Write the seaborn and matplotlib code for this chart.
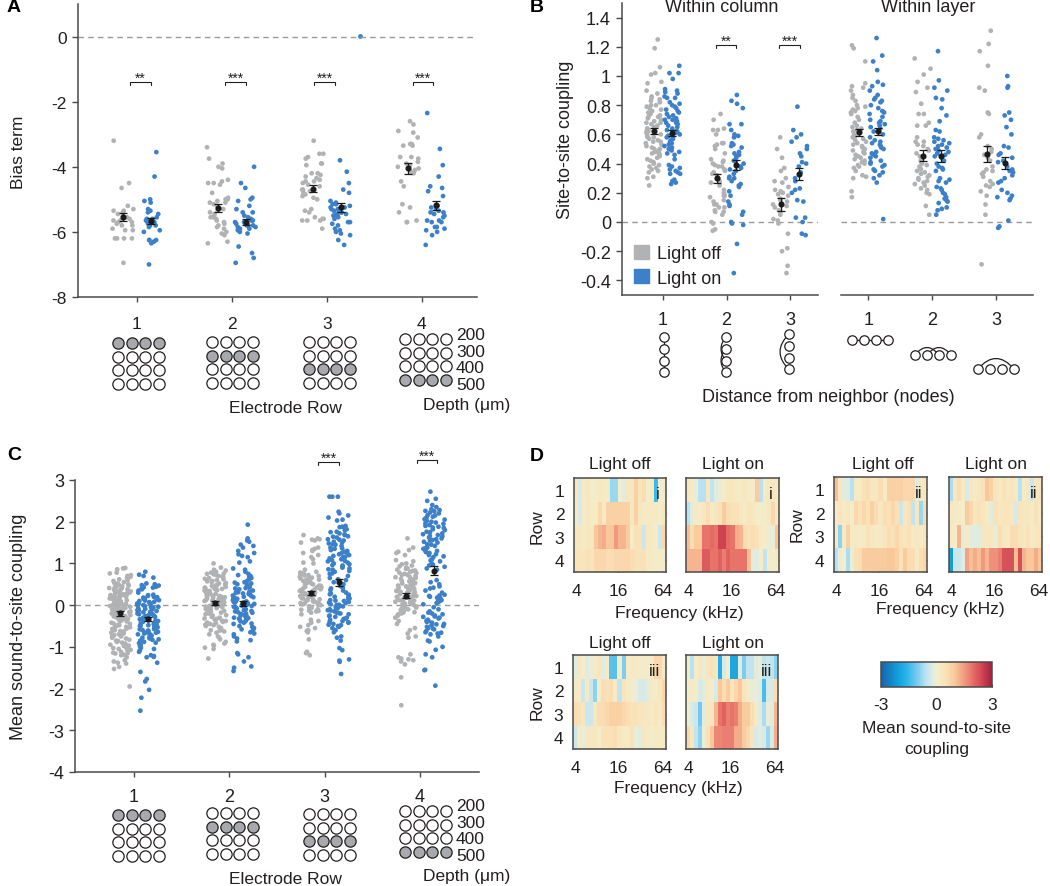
import numpy as np
import pandas as pd
import matplotlib
matplotlib.use("Agg")
import matplotlib.pyplot as plt
from matplotlib.colors import LinearSegmentedColormap
from matplotlib.patches import Patch, PathPatch
from matplotlib.path import Path
import seaborn as sns

sns.set_theme(style="white")
plt.rcParams['font.family'] = ['Liberation Sans', 'DejaVu Sans']
np.random.seed(7)  # only fixes the strip-plot's horizontal jitter between runs

# ---------- data, panel A ----------
a_off = [
 [-3.2,-4.5,-4.65,-5.2,-5.3,-5.35,-5.4,-5.35,-5.45,-5.5,-5.55,-5.6,-5.65,-5.65,-5.7,-5.7,-5.75,-5.8,-5.8,-5.9,-5.95,-5.95,-6.2,-6.2,-6.2,-6.2,-6.95],
 [-3.4,-3.75,-3.9,-4.0,-4.05,-4.4,-4.45,-4.5,-4.5,-4.55,-4.8,-4.95,-5.0,-5.0,-5.05,-5.1,-5.1,-5.15,-5.2,-5.3,-5.35,-5.4,-5.45,-5.5,-5.55,-5.55,-5.6,-5.65,-5.7,-5.75,-5.8,-5.85,-5.9,-6.0,-6.05,-6.1,-6.3,-6.35],
 [-3.2,-3.6,-3.6,-3.7,-3.75,-3.9,-3.9,-3.95,-4.2,-4.2,-4.25,-4.3,-4.35,-4.4,-4.45,-4.45,-4.5,-4.55,-4.6,-4.7,-4.7,-4.75,-4.8,-4.85,-4.9,-4.95,-5.0,-5.3,-5.35,-5.4,-5.55,-5.6,-5.6,-5.65,-5.65,-5.65,-5.9],
 [-2.6,-2.7,-2.9,-2.95,-3.1,-3.3,-3.35,-3.3,-3.35,-3.7,-3.7,-3.75,-3.85,-3.9,-3.95,-4.0,-4.05,-4.1,-4.15,-4.2,-4.45,-4.6,-5.15,-5.25,-5.4,-5.65,-5.7,-5.7],
]
a_on = [
 [-3.55,-4.3,-5.0,-5.05,-5.1,-5.3,-5.35,-5.4,-5.45,-5.55,-5.6,-5.6,-5.65,-5.65,-5.7,-5.7,-5.75,-5.8,-5.8,-5.85,-5.95,-6.0,-6.25,-6.25,-6.25,-6.3,-6.35,-7.0],
 [-4.0,-4.5,-4.65,-4.95,-5.0,-5.05,-5.2,-5.3,-5.4,-5.4,-5.5,-5.55,-5.6,-5.65,-5.65,-5.7,-5.7,-5.75,-5.75,-5.8,-5.8,-5.8,-5.85,-5.85,-5.9,-5.9,-5.95,-6.0,-6.05,-6.45,-6.65,-6.8,-6.95],
 [-3.8,-4.15,-4.5,-4.7,-4.8,-5.05,-5.1,-5.15,-5.15,-5.2,-5.25,-5.25,-5.3,-5.3,-5.35,-5.35,-5.4,-5.4,-5.45,-5.45,-5.5,-5.5,-5.5,-5.55,-5.6,-5.7,-5.7,-5.75,-5.8,-5.9,-5.95,-6.0,-6.05,-6.1,-6.25,-6.4],
 [-2.35,-3.45,-3.95,-4.3,-4.6,-4.65,-4.75,-4.9,-5.2,-5.25,-5.3,-5.35,-5.4,-5.4,-5.45,-5.5,-5.55,-5.65,-5.65,-5.7,-5.7,-5.85,-5.85,-5.9,-5.95,-6.0,-6.1,-6.4],
]
a_stray = (3.35, 0.02)
a_mean_off = [-5.55,-5.27,-4.67,-4.05]
a_sem_off = [0.12,0.13,0.12,0.16]
a_mean_on = [-5.67,-5.70,-5.25,-5.18]
a_sem_on = [0.10,0.09,0.14,0.14]

# ---------- data, panel B ----------
b_off = [
 [1.25,1.19,1.06,1.02,1.01,0.96,0.95,0.9,0.88,0.86,0.85,0.84,0.83,0.82,0.8,0.8,0.79,0.78,0.77,0.76,0.75,0.74,0.73,0.72,0.72,0.71,0.7,0.69,0.68,0.68,0.67,0.66,0.65,0.64,0.64,0.63,0.62,0.62,0.61,0.6,0.59,0.58,0.58,0.57,0.56,0.55,0.55,0.54,0.53,0.52,0.51,0.5,0.5,0.49,0.48,0.47,0.47,0.46,0.45,0.44,0.43,0.42,0.41,0.4,0.39,0.38,0.37,0.36,0.35,0.34,0.31,0.3,0.25],
 [0.74,0.7,0.64,0.63,0.63,0.6,0.54,0.54,0.53,0.52,0.5,0.47,0.43,0.42,0.41,0.4,0.39,0.38,0.38,0.36,0.35,0.34,0.33,0.32,0.3,0.28,0.27,0.25,0.22,0.2,0.19,0.18,0.18,0.17,0.15,0.14,0.12,0.12,0.1,0.1,0.08,0.07,0.07,0.05,0.0,-0.01,-0.05,-0.06],
 [0.58,0.5,0.44,0.37,0.35,0.3,0.28,0.27,0.24,0.22,0.21,0.2,0.19,0.18,0.16,0.15,0.14,0.12,0.11,0.1,0.08,0.07,0.05,0.02,0.01,-0.01,-0.08,-0.18,-0.2,-0.3,-0.35],
 [1.21,1.19,1.1,0.95,0.93,0.92,0.9,0.87,0.85,0.83,0.8,0.79,0.78,0.77,0.76,0.75,0.74,0.72,0.7,0.68,0.66,0.65,0.64,0.63,0.62,0.61,0.6,0.59,0.58,0.57,0.56,0.55,0.54,0.53,0.52,0.51,0.5,0.49,0.48,0.47,0.46,0.45,0.44,0.43,0.42,0.41,0.4,0.39,0.38,0.37,0.35,0.32,0.31,0.3,0.21,0.17],
 [1.12,1.05,1.01,0.96,0.92,0.89,0.81,0.74,0.74,0.68,0.66,0.66,0.58,0.55,0.55,0.53,0.52,0.5,0.49,0.47,0.45,0.44,0.42,0.41,0.4,0.39,0.38,0.37,0.36,0.35,0.34,0.33,0.32,0.31,0.3,0.29,0.28,0.27,0.26,0.25,0.23,0.22,0.2,0.19,0.11,0.05],
 [1.31,1.22,1.17,1.07,0.92,0.9,0.75,0.74,0.6,0.58,0.52,0.5,0.48,0.46,0.44,0.42,0.38,0.36,0.35,0.34,0.33,0.31,0.28,0.26,0.25,0.24,0.21,0.18,0.12,0.05,-0.29],
]
b_on = [
 [1.07,1.02,1.02,0.98,0.91,0.9,0.89,0.88,0.86,0.85,0.85,0.82,0.81,0.8,0.79,0.78,0.77,0.76,0.75,0.74,0.73,0.72,0.71,0.7,0.7,0.69,0.68,0.68,0.67,0.66,0.65,0.64,0.63,0.62,0.62,0.61,0.6,0.59,0.59,0.58,0.57,0.56,0.55,0.54,0.53,0.52,0.51,0.5,0.49,0.48,0.47,0.46,0.43,0.39,0.38,0.37,0.36,0.35,0.34,0.33,0.33,0.29,0.28,0.27,0.26],
 [0.87,0.83,0.81,0.78,0.67,0.67,0.63,0.6,0.59,0.58,0.54,0.53,0.52,0.51,0.48,0.47,0.46,0.45,0.44,0.42,0.41,0.4,0.38,0.37,0.36,0.35,0.33,0.31,0.3,0.3,0.28,0.26,0.25,0.24,0.21,0.18,0.14,0.12,0.11,0.07,0.05,0.0,-0.01,-0.02,-0.15,-0.35],
 [0.79,0.63,0.6,0.58,0.55,0.52,0.5,0.47,0.45,0.41,0.4,0.38,0.34,0.3,0.28,0.23,0.22,0.2,0.15,0.14,0.03,0.03,0.0,-0.08,-0.09],
 [1.26,1.14,1.1,1.04,0.96,0.94,0.93,0.9,0.87,0.85,0.84,0.83,0.82,0.8,0.78,0.76,0.75,0.74,0.72,0.7,0.69,0.68,0.67,0.66,0.65,0.64,0.62,0.6,0.58,0.56,0.55,0.54,0.53,0.52,0.51,0.5,0.48,0.47,0.46,0.45,0.44,0.42,0.41,0.4,0.39,0.38,0.36,0.35,0.34,0.32,0.3,0.27,0.02],
 [1.17,0.97,0.92,0.9,0.85,0.84,0.78,0.73,0.69,0.63,0.62,0.58,0.57,0.56,0.55,0.54,0.53,0.52,0.51,0.5,0.49,0.48,0.47,0.46,0.45,0.44,0.42,0.4,0.38,0.37,0.36,0.35,0.3,0.29,0.28,0.27,0.24,0.23,0.22,0.2,0.19,0.17,0.16,0.15,0.14,0.13,0.1,0.09,0.08,0.05],
 [1.0,0.93,0.92,0.75,0.73,0.7,0.65,0.6,0.52,0.51,0.47,0.46,0.44,0.42,0.41,0.38,0.36,0.35,0.34,0.32,0.3,0.28,0.27,0.22,0.2,0.18,0.17,0.16,0.15,0.01,-0.03,-0.04],
]
b_mean_off = [0.625,0.30,0.12,0.615,0.455,0.465]
b_sem_off = [0.02,0.03,0.045,0.025,0.035,0.055]
b_mean_on = [0.61,0.39,0.33,0.62,0.45,0.405]
b_sem_on = [0.02,0.035,0.04,0.025,0.04,0.04]

# ---------- data, panel C ----------
c_off = [
 [0.89,0.88,0.86,0.78,0.76,0.72,0.7,0.68,0.65,0.62,0.6,0.58,0.55,0.53,0.52,0.5,0.49,0.47,0.45,0.44,0.42,0.41,0.4,0.38,0.37,0.35,0.33,0.32,0.3,0.29,0.27,0.25,0.24,0.22,0.21,0.2,0.18,0.16,0.15,0.13,0.12,0.1,0.09,0.07,0.05,0.04,0.02,0.01,-0.01,-0.03,-0.04,-0.06,-0.08,-0.09,-0.11,-0.13,-0.15,-0.16,-0.18,-0.2,-0.22,-0.24,-0.25,-0.27,-0.29,-0.31,-0.33,-0.35,-0.37,-0.39,-0.42,-0.45,-0.48,-0.5,-0.52,-0.55,-0.57,-0.6,-0.63,-0.66,-0.7,-0.72,-0.75,-0.78,-0.8,-0.83,-0.85,-0.88,-0.9,-0.92,-0.95,-0.98,-1.0,-1.02,-1.05,-1.08,-1.12,-1.14,-1.16,-1.18,-1.2,-1.25,-1.32,-1.35,-1.38,-1.4,-1.48,-1.53,-1.95,
  0.48,0.43,0.36,0.31,0.28,0.26,0.23,0.19,0.17,0.14,0.11,0.08,0.06,0.03,0.0,-0.02,-0.05,-0.07,-0.1,-0.12,-0.14,-0.17,-0.19,-0.21,-0.23,-0.26,-0.28,-0.3,-0.34,-0.38,-0.44,-0.47,-0.53,-0.56,-0.62,-0.68,-0.74,-0.86,-0.97,-1.03,-1.07,-1.15,-1.19],
 [1.0,0.9,0.85,0.83,0.8,0.78,0.76,0.74,0.72,0.7,0.68,0.65,0.62,0.6,0.58,0.55,0.53,0.5,0.48,0.46,0.44,0.42,0.4,0.38,0.36,0.35,0.33,0.31,0.3,0.28,0.26,0.25,0.23,0.21,0.2,0.18,0.16,0.15,0.13,0.11,0.1,0.08,0.06,0.05,0.03,0.01,0.0,-0.02,-0.04,-0.05,-0.07,-0.1,-0.12,-0.15,-0.18,-0.2,-0.22,-0.25,-0.28,-0.3,-0.33,-0.35,-0.38,-0.4,-0.42,-0.45,-0.48,-0.5,-0.55,-0.58,-0.6,-0.63,-0.66,-0.7,-0.75,-0.78,-0.82,-0.88,-0.92,-0.95,-0.97,-1.02,-1.05,-1.28,
  0.75,0.69,0.63,0.57,0.52,0.47,0.43,0.39,0.34,0.29,0.27,0.24,0.22,0.19,0.17,0.14,0.12,0.09,0.07,0.04,0.02,-0.01,-0.03,-0.06,-0.09,-0.14,-0.17,-0.24,-0.32,-0.37,-0.43,-0.47,-0.52,-0.61],
 [1.68,1.6,1.58,1.57,1.55,1.5,1.38,1.35,1.32,1.3,1.25,1.2,1.15,1.1,1.02,1.0,0.85,0.8,0.78,0.76,0.74,0.72,0.7,0.68,0.66,0.64,0.62,0.6,0.58,0.56,0.54,0.52,0.5,0.48,0.46,0.44,0.42,0.4,0.38,0.36,0.34,0.32,0.3,0.28,0.26,0.24,0.22,0.2,0.18,0.16,0.14,0.12,0.1,0.08,0.06,0.04,0.02,0.0,-0.03,-0.05,-0.08,-0.1,-0.13,-0.15,-0.18,-0.22,-0.35,-0.38,-0.42,-0.48,-0.52,-0.55,-0.6,-0.62,-0.65,-0.82,-1.12,-1.15,-1.2,
  0.75,0.71,0.65,0.61,0.55,0.51,0.47,0.43,0.39,0.35,0.33,0.29,0.25,0.21,0.17,0.13,0.09,0.05,0.01,-0.04,-0.07,-0.11,-0.14],
 [1.6,1.38,1.32,1.28,1.25,1.2,1.08,1.05,1.0,0.98,0.95,0.93,0.9,0.87,0.85,0.82,0.8,0.78,0.75,0.72,0.7,0.68,0.65,0.62,0.6,0.58,0.55,0.52,0.5,0.48,0.45,0.42,0.4,0.38,0.36,0.34,0.32,0.3,0.28,0.26,0.24,0.22,0.2,0.18,0.16,0.14,0.12,0.1,0.08,0.06,0.04,0.02,0.0,-0.03,-0.05,-0.08,-0.1,-0.14,-0.17,-0.2,-0.25,-0.3,-0.38,-0.45,-0.55,-0.6,-0.68,-0.75,-0.78,-1.18,-1.25,-1.28,-1.3,-1.32,-1.35,-1.42,-1.73,-2.4,
  0.88,0.83,0.77,0.73,0.67,0.63,0.57,0.53,0.47,0.43,0.39,0.35,0.31,0.27,0.23,0.19,0.15,0.11,0.07,0.03,-0.02,-0.06,-0.12,-0.18,-0.22],
]
c_on = [
 [0.8,0.73,0.7,0.66,0.52,0.5,0.48,0.46,0.44,0.42,0.4,0.38,0.35,0.3,0.25,0.22,0.2,0.18,0.16,0.14,0.12,0.1,0.08,0.06,0.04,0.02,0.0,-0.02,-0.04,-0.06,-0.08,-0.1,-0.12,-0.14,-0.16,-0.18,-0.2,-0.22,-0.24,-0.26,-0.28,-0.3,-0.32,-0.34,-0.36,-0.38,-0.4,-0.42,-0.44,-0.46,-0.48,-0.5,-0.52,-0.54,-0.56,-0.58,-0.6,-0.62,-0.64,-0.66,-0.68,-0.7,-0.72,-0.75,-0.78,-0.8,-0.82,-0.85,-0.88,-0.9,-0.95,-0.98,-1.02,-1.05,-1.08,-1.12,-1.2,-1.22,-1.24,-1.25,-1.38,-1.6,-1.77,-1.83,-2.03,-2.22,-2.53,
  0.47,0.43,0.24,0.19,0.15,0.11,0.07,0.03,-0.01,-0.05,-0.09,-0.13,-0.17,-0.21,-0.25,-0.29,-0.33,-0.37,-0.41,-0.45,-0.49,-0.53,-0.57,-0.61,-0.65,-0.69,-0.73,-0.79,-0.83,-0.91],
 [1.93,1.6,1.55,1.52,1.45,1.42,1.38,1.3,1.25,1.22,1.18,1.15,1.05,1.02,0.88,0.85,0.8,0.75,0.72,0.7,0.68,0.65,0.62,0.58,0.55,0.52,0.5,0.48,0.45,0.42,0.4,0.38,0.35,0.32,0.3,0.28,0.25,0.22,0.2,0.18,0.15,0.12,0.1,0.08,0.05,0.02,0.0,-0.02,-0.05,-0.08,-0.1,-0.12,-0.15,-0.18,-0.2,-0.22,-0.25,-0.28,-0.3,-0.32,-0.35,-0.38,-0.42,-0.45,-0.5,-0.55,-0.6,-0.65,-0.7,-0.75,-0.8,-0.84,-0.87,-1.15,-1.18,-1.25,-1.35,-1.47,-1.5,-1.58,
  0.67,0.54,0.47,0.41,0.36,0.31,0.27,0.23,0.19,0.16,0.13,0.09,0.06,0.03,-0.01,-0.04,-0.07,-0.11,-0.14,-0.17,-0.21,-0.24,-0.27,-0.31,-0.34,-0.39,-0.44,-0.52,-0.58,-0.68],
 [2.6,2.6,2.6,2.24,2.2,2.15,2.1,2.05,2.03,1.9,1.88,1.85,1.82,1.8,1.75,1.72,1.7,1.68,1.65,1.62,1.58,1.55,1.52,1.5,1.48,1.45,1.42,1.38,1.35,1.32,1.3,1.28,1.25,1.22,1.2,1.18,1.15,1.12,1.1,1.08,1.05,1.02,1.0,0.98,0.95,0.92,0.9,0.88,0.85,0.82,0.8,0.75,0.7,0.65,0.62,0.6,0.55,0.5,0.45,0.42,0.4,0.35,0.3,0.28,0.25,0.22,0.2,0.18,0.15,0.12,0.1,0.08,0.05,0.02,0.0,-0.02,-0.05,-0.08,-0.1,-0.12,-0.15,-0.18,-0.2,-0.22,-0.25,-0.28,-0.3,-0.32,-0.35,-0.38,-0.4,-0.42,-0.45,-0.48,-0.5,-0.52,-0.55,-0.6,-0.65,-0.75,-0.78,-0.85,-1.03,-1.08,-1.3,-1.33,-1.36,-1.65,
  1.87,1.76,1.64,1.57,1.46,1.36,1.26,1.16,1.06,0.96,0.86,0.76,0.46,0.36,0.26,0.16,0.11,0.06,0.01,-0.03,-0.07,-0.13,-0.19,-0.26,-0.33,-0.41,-0.47],
 [2.72,2.55,2.5,2.4,2.35,2.3,2.28,2.25,2.22,2.2,2.15,2.12,2.1,2.05,2.02,2.0,1.98,1.95,1.92,1.9,1.88,1.85,1.82,1.8,1.75,1.72,1.7,1.68,1.65,1.62,1.6,1.58,1.55,1.52,1.5,1.45,1.42,1.38,1.35,1.32,1.3,1.28,1.25,1.22,1.2,1.15,1.1,1.05,1.0,0.95,0.92,0.88,0.85,0.6,0.55,0.5,0.45,0.42,0.4,0.35,0.3,0.25,0.22,0.2,0.18,0.15,0.12,0.1,0.08,0.05,0.02,-0.05,-0.1,-0.15,-0.18,-0.2,-0.25,-0.28,-0.3,-0.32,-0.35,-0.38,-0.4,-0.42,-0.45,-0.48,-0.5,-0.52,-0.55,-0.58,-0.62,-0.65,-0.68,-0.7,-0.75,-0.85,-0.87,-1.0,-1.07,-1.18,-1.25,-1.55,-1.56,-1.93,
  2.26,2.16,2.06,1.96,1.86,1.76,1.66,1.56,1.46,1.37,1.27,1.17,1.07,0.97,0.23,0.17,0.07,-0.22,-0.27,-0.37,-0.46,-0.56,-0.66],
]
c_mean_off = [-0.2,0.05,0.3,0.22]
c_sem_off = [0.05,0.05,0.05,0.06]
c_mean_on = [-0.34,0.05,0.55,0.83]
c_sem_on = [0.05,0.06,0.08,0.1]

# ---------- data, panel D (4 rows x 23 frequency bins) ----------
row_labels = ['1','2','3','4']
freq_labels = ['4','16','64']
d_i_off = [
 [0.3,-0.3,0.2,0.3,0.1,0.1,0.2,0.2,0.1,-0.8,-0.8,0.1,-0.2,0.3,0.3,0.8,0.4,0.6,0.1,0.2,-1.5,0.1,0.1],
 [0.2,-0.3,0.2,0.3,0.2,0.2,0.7,0.2,0.8,0.8,0.8,0.8,0.8,0.8,0.3,0.8,0.3,0.2,0.2,0.2,0.2,0.1,0.3],
 [0.3,0.3,0.2,0.3,0.3,1.0,1.2,1.3,1.0,1.0,1.5,1.2,1.2,0.9,0.1,0.5,0.5,-0.4,0.3,0.2,0.1,-0.4,0.7],
 [0.4,0.4,0.4,0.5,0.4,0.7,0.7,0.7,0.6,0.6,0.7,0.7,0.7,0.7,0.6,0.5,0.5,0.5,0.2,0.2,0.1,0.1,0.1],
]
d_i_on = [
 [0.3,0.2,-0.1,-0.6,-0.6,0.3,-0.5,-0.2,-0.1,0.1,0.3,0.3,0.2,0.2,0.3,0.1,0.1,0.9,-0.6,0.2,0.3,0.3,0.2],
 [-0.6,-0.2,0.2,0.1,0.3,0.6,0.2,0.3,0.5,0.9,0.6,0.5,0.5,0.3,0.2,0.4,0.3,0.1,0.1,0.1,0.3,0.7,0.2],
 [1.1,0.6,0.9,0.9,1.9,1.9,2.0,1.9,2.5,2.5,2.0,1.9,1.3,1.2,0.6,0.5,0.6,0.5,0.2,0.1,-0.1,-0.1,1.0],
 [1.2,1.2,1.2,1.2,2.2,2.2,1.9,1.9,2.1,1.8,2.1,1.9,1.9,1.9,1.9,1.1,-0.2,-0.2,0.1,-0.5,0.1,0.1,0.2],
]
d_ii_off = [
 [1.1,0.3,-0.2,-0.2,-0.6,0.2,0.2,0.5,0.6,0.3,0.3,0.6,0.2,0.8,0.8,0.8,0.8,0.7,0.7,0.7,-0.2,0.3,0.4],
 [0.1,0.4,0.2,0.3,0.1,0.7,0.5,0.7,0.5,0.8,0.6,0.3,0.6,0.5,0.7,0.5,-0.4,0.3,0.5,-0.5,0.3,-0.8,0.6],
 [0.2,-0.9,0.2,0.8,0.2,0.2,0.1,0.2,0.5,0.3,0.2,0.2,0.4,0.6,0.5,0.7,0.5,0.3,0.5,0.2,0.3,0.2,0.4],
 [-0.6,-0.1,0.0,-0.7,-0.1,0.5,0.6,0.9,0.9,0.9,0.9,0.9,0.9,1.0,1.0,0.8,0.5,0.9,0.6,0.6,0.2,0.6,0.7],
]
d_ii_on = [
 [-0.7,0.3,0.6,0.2,-0.3,0.3,0.2,0.3,0.5,1.0,0.8,0.4,0.2,0.5,0.3,0.4,0.2,-0.6,0.1,0.3,-0.4,0.3,0.4],
 [0.3,0.2,0.1,0.1,0.9,0.7,0.3,0.5,0.4,0.2,-0.2,0.5,0.3,0.4,0.4,0.3,-0.3,0.4,0.3,0.3,0.2,0.5,0.2],
 [0.2,0.1,1.2,-0.1,0.2,-0.2,-0.2,-0.2,0.3,0.3,0.3,-0.1,0.6,0.3,0.2,0.6,0.6,0.4,0.3,0.5,0.2,0.3,0.4],
 [-2.1,-0.4,-0.4,-0.2,1.4,1.1,1.3,1.1,1.5,1.2,1.6,1.6,1.8,2.3,2.3,2.3,1.1,2.3,1.2,1.0,1.0,1.3,1.0],
]
d_iii_off = [
 [-0.2,0.3,0.1,-0.2,-0.1,0.2,0.4,-0.2,0.2,-1.3,-1.3,0.1,-1.0,0.1,0.2,0.2,0.1,0.1,0.1,0.2,0.7,0.7,0.2],
 [0.2,0.1,-0.4,0.2,-0.4,-0.9,0.1,0.6,0.5,0.6,0.2,-0.5,0.4,0.2,0.1,-0.1,-0.3,-0.3,-0.2,0.2,0.1,0.3,0.7],
 [0.6,0.5,0.3,-0.4,-0.4,0.3,0.6,0.6,0.7,0.8,0.8,0.8,0.7,0.6,0.5,0.5,0.4,0.3,0.3,0.2,0.4,0.2,0.6],
 [-0.4,0.2,-0.1,0.3,0.3,0.3,0.1,0.5,0.5,0.5,0.6,0.3,0.2,0.2,0.5,-0.1,-0.2,0.3,0.2,0.1,0.2,0.2,0.2],
]
d_iii_on = [
 [0.2,-0.6,0.1,0.3,-0.1,0.3,0.5,0.3,-1.7,-0.3,0.1,-1.9,-1.9,-0.2,-1.0,-0.5,-0.5,-0.2,-0.1,-0.5,-0.4,-0.5,-0.9],
 [0.1,0.2,0.1,-0.3,-0.2,0.2,0.1,-0.3,1.0,0.6,0.9,0.4,0.7,1.0,0.4,0.2,-0.1,-0.1,-0.2,-1.4,-0.3,-0.3,0.6],
 [0.1,-0.3,-0.4,-1.1,-0.2,0.3,0.3,1.2,1.9,2.1,1.8,1.9,1.8,1.3,0.9,0.9,0.6,0.2,-0.2,-0.7,-0.1,-0.2,1.2],
 [0.7,0.3,-0.5,-0.9,-0.1,0.5,1.0,1.7,1.7,1.8,1.8,1.8,1.3,1.3,0.9,0.7,0.4,-0.3,-0.2,-0.3,-0.8,-0.3,1.3],
]
cbar_ticks = [-3, 0, 3]
rows = ['1','2','3','4']
depths = ['200','300','400','500']

# ---------- styling ----------
W, H = 1050, 887
GREY, BLUE = '#b1b2b4', '#3b80c8'
INK, SPINE = '#231f20', '#4a4a4a'
DASH = '#9a9a9a'
pal = {'Light off': GREY, 'Light on': BLUE}
cmap = LinearSegmentedColormap.from_list('d', [
    (0.0, '#1763aa'), (0.15, '#129fdc'), (0.233, '#2db5ea'), (0.333, '#7fcdee'), (0.4, '#b8e2f3'),
    (0.458, '#dcebe6'), (0.5, '#f3efcc'), (0.583, '#fae2b8'), (0.667, '#f9c79a'), (0.75, '#f29a80'),
    (0.833, '#e56c65'), (0.917, '#cf4350'), (1.0, '#a2213f')])

fig = plt.figure(figsize=(W/100, H/100), dpi=100, facecolor='white')

def ax_px(l, t, r, b):
    return fig.add_axes([l/W, 1-b/H, (r-l)/W, (b-t)/H])

ov = fig.add_axes([0, 0, 1, 1], zorder=5)
ov.set_xlim(0, W); ov.set_ylim(H, 0); ov.axis('off'); ov.patch.set_alpha(0)

def txt(x, y, s, size=12.5, ha='center', va='center', **kw):
    ov.text(x, y, s, fontsize=size, ha=ha, va=va, color=INK, **kw)

DODGE = 0.147

def strip(ax, off, on, jit, size=3.4):
    recs = []
    for i, (o, n) in enumerate(zip(off, on)):
        recs += [(i+1-DODGE, v, 'Light off') for v in o]
        recs += [(i+1+DODGE, v, 'Light on') for v in n]
    df = pd.DataFrame(recs, columns=['pos', 'value', 'light'])
    # with a native scale seaborn measures jitter in units of the smallest gap between positions
    sns.stripplot(data=df, x='pos', y='value', hue='light', palette=pal, orient='x',
                  native_scale=True, jitter=jit/(2*DODGE), size=size, linewidth=0,
                  legend=False, ax=ax, zorder=2)

def means(ax, m_off, s_off, m_on, s_on):
    xs = np.arange(1, len(m_off)+1)
    for x, m, s in [(xs-DODGE, m_off, s_off), (xs+DODGE, m_on, s_on)]:
        ax.errorbar(x, m, yerr=s, fmt='o', ms=3.4, color='#1a1a1a', ecolor='#1a1a1a',
                    elinewidth=0.9, capsize=2.6, capthick=0.9, zorder=4)

def style(ax, yticks, ylabels, xticks=(1, 2, 3, 4), left=True, size=12.5, xpad=10.5):
    sns.despine(ax=ax, top=True, right=True, left=not left)
    for s in ('left', 'bottom'):
        ax.spines[s].set_color(SPINE); ax.spines[s].set_linewidth(1.1)
    ax.set_xticks(list(xticks)); ax.set_xticklabels([str(x) for x in xticks])
    ax.set_xlabel(''); ax.set_ylabel('')
    ax.tick_params(axis='x', length=3.5, width=1, color=SPINE, pad=xpad, labelsize=size, labelcolor=INK, bottom=True)
    if left:
        ax.set_yticks(yticks); ax.set_yticklabels(ylabels)
        ax.tick_params(axis='y', length=4, width=1, color=SPINE, pad=4, labelsize=size, labelcolor=INK, left=True)
    else:
        ax.set_yticks([])
    ax.axhline(0, color=DASH, lw=1, ls=(0, (4, 3)), zorder=1)
    ax.patch.set_alpha(0)

def bracket(x0, x1, y, stars):
    ov.plot([x0, x0, x1, x1], [y+3, y, y, y+3], color=INK, lw=0.8, solid_joinstyle='miter')
    ov.text((x0+x1)/2, y-4.5, stars, fontsize=10, ha='center', va='center', color=INK)

def grid(x0, y0, filled, d=13.6, s=66):
    for r in range(4):
        for c in range(4):
            ov.scatter(x0+c*d, y0+r*d, s=s, facecolor='#a7a9ac' if r == filled else 'white',
                       edgecolor=INK, linewidth=0.9, zorder=3)

def curve(p0, ctrl, p1):
    ov.add_patch(PathPatch(Path([p0, ctrl, p1], [Path.MOVETO, Path.CURVE3, Path.CURVE3]),
                           fc='none', ec=INK, lw=0.9, zorder=2))

def nodes(pts):
    for p in pts:
        ov.scatter(*p, s=46, facecolor='white', edgecolor=INK, linewidth=0.9, zorder=3)

# ---------- panel A ----------
axA = ax_px(78, 5, 477, 298)
strip(axA, a_off, a_on, 0.115)
sns.scatterplot(x=[a_stray[0]], y=[a_stray[1]], color=BLUE, s=12, linewidth=0, ax=axA, legend=False)
means(axA, a_mean_off, a_sem_off, a_mean_on, a_sem_on)
style(axA, [0, -2, -4, -6, -8], ['0', '-2', '-4', '-6', '-8'])
axA.set_xlim(0.38, 4.58); axA.set_ylim(-8, 1)
txt(19, 152, 'Bias term', rotation=90)
for (x0, x1), st in zip([(130, 151), (225, 246), (314, 335), (413, 433)], ['**', '***', '***', '***']):
    bracket(x0, x1, 83, st)
for (x, y), f in zip([(118, 344), (212, 343), (309, 343), (405, 340)], range(4)):
    grid(x, y, f)
for y, d in zip([336, 353, 369, 386], depths):
    txt(456, y, d, ha='left')
txt(285, 409, 'Electrode Row')
txt(423, 406, 'Depth (μm)', ha='left')

# ---------- panel B ----------
axB1 = ax_px(622, 4, 818, 296)
strip(axB1, b_off[:3], b_on[:3], 0.125)
means(axB1, b_mean_off[:3], b_sem_off[:3], b_mean_on[:3], b_sem_on[:3])
ylab = ['1.4', '1.2', '1', '0.8', '0.6', '0.4', '0.2', '0', '-0.2', '-0.4']
yval = [1.4, 1.2, 1, 0.8, 0.6, 0.4, 0.2, 0, -0.2, -0.4]
style(axB1, yval, ylab, xticks=(1, 2, 3), size=13, xpad=8)
axB1.set_xlim(0.354, 3.44); axB1.set_ylim(-0.5, 1.5)
axB2 = ax_px(841, 4, 1033, 296)
strip(axB2, b_off[3:], b_on[3:], 0.125)
means(axB2, b_mean_off[3:], b_sem_off[3:], b_mean_on[3:], b_sem_on[3:])
style(axB2, [], [], xticks=(1, 2, 3), left=False, size=13, xpad=8)
axB2.set_xlim(0.575, 3.58); axB2.set_ylim(-0.5, 1.5)
axB1.legend(handles=[Patch(color=GREY, label='Light off'), Patch(color=BLUE, label='Light on')],
            loc='upper left', bbox_to_anchor=(634/W, 1-246/H), bbox_transform=fig.transFigure,
            frameon=False, fontsize=13, handlelength=0.85, handleheight=0.8, handletextpad=0.4,
            labelspacing=0.4, borderpad=0, borderaxespad=0, labelcolor=INK)
txt(566, 140, 'Site-to-site coupling', rotation=90, size=13)
txt(722, 8, 'Within column', size=13)
txt(928, 8, 'Within layer', size=13)
bracket(716, 736, 46, '**')
bracket(779, 800, 46, '***')
txt(828, 398, 'Distance from neighbor (nodes)', size=13)
# neighbour diagrams
col = lambda x, y0: [(x, y0+i*11.8) for i in range(4)]
lay = lambda x0, y: [(x0+i*12, y) for i in range(4)]
p = col(664, 338); ov.plot([664, 664], [338, 373], color=INK, lw=0.9); nodes(p)
p = col(726, 338)
curve(p[0], (716, p[1][1]), p[2]); curve(p[1], (716, p[2][1]), p[3]); nodes(p)
p = col(789, 335); curve(p[0], (771, 353), p[3]); nodes(p)
p = lay(852, 341); ov.plot([852, 888], [341, 341], color=INK, lw=0.9); nodes(p)
p = lay(915, 356); curve(p[0], (927, 341), p[2]); curve(p[1], (939, 341), p[3]); nodes(p)
p = lay(978, 370); curve(p[0], (996, 349), p[3]); nodes(p)

# ---------- panel C ----------
axC = ax_px(75, 481, 479, 773)
strip(axC, c_off, c_on, 0.115)
means(axC, c_mean_off, c_sem_off, c_mean_on, c_sem_on)
style(axC, [3, 2, 1, 0, -1, -2, -3, -4], ['3', '2', '1', '0', '-1', '-2', '-3', '-4'], size=13, xpad=8)
axC.set_xlim(0.38, 4.62); axC.set_ylim(-4, 3)
txt(19, 627, 'Mean sound-to-site coupling', rotation=90, size=13)
bracket(318, 339, 463, '***')
bracket(417, 437, 461, '***')
for (x, y), f in zip([(118, 816), (212, 814), (309, 815), (405, 812)], range(4)):
    grid(x, y, f)
for y, d in zip([807, 824, 840, 857], depths):
    txt(456, y, d, ha='left')
txt(285, 880, 'Electrode Row')
txt(423, 877, 'Depth (μm)', ha='left')

# ---------- panel D ----------
def heat(box, data, tag, ylab=True):
    ax = ax_px(*box)
    sns.heatmap(pd.DataFrame(data, index=rows), cmap=cmap, vmin=-3, vmax=3, cbar=False, ax=ax,
                xticklabels=False, yticklabels=False, linewidths=0)
    ax.set_xticks([0.5, 11.1, 22.2]); ax.set_xticklabels(freq_labels)
    ax.set_yticks([0.5, 1.5, 2.5, 3.5]); ax.set_yticklabels(row_labels if ylab else [], rotation=0)
    ax.tick_params(axis='both', direction='in', length=2, width=0.8, color=SPINE, labelsize=12.5,
                   labelcolor=INK, top=True, right=True, left=True, bottom=True)
    ax.tick_params(axis='x', pad=8)
    ax.tick_params(axis='y', pad=7)
    for s in ax.spines.values():
        s.set_visible(True); s.set_color(SPINE); s.set_linewidth(1.1)
    ax.text(0.91 if len(tag) < 3 else 0.88, 0.84, tag, transform=ax.transAxes, fontsize=12,
            ha='center', va='center', color=INK)
    return ax

heat((574, 479, 666, 573), d_i_off, 'i')
heat((686, 479, 779, 573), d_i_on, 'i', ylab=False)
heat((834, 478, 927, 573), d_ii_off, 'ii')
heat((949, 478, 1042, 573), d_ii_on, 'ii', ylab=False)
heat((573, 656, 666, 750), d_iii_off, 'iii')
heat((686, 656, 778, 750), d_iii_on, 'iii', ylab=False)
for x, y, s in [(620, 465, 'Light off'), (733, 465, 'Light on'), (883, 465, 'Light off'),
                (996, 465, 'Light on'), (620, 644, 'Light off'), (733, 644, 'Light on')]:
    txt(x, y, s)
for x, y in [(537, 527), (797, 525), (537, 703)]:
    txt(x, y, 'Row', rotation=90)
for x, y in [(679, 614), (940, 610), (678, 789)]:
    txt(x, y, 'Frequency (kHz)')

cax = ax_px(881, 663, 992, 688)
sm = plt.cm.ScalarMappable(cmap=cmap, norm=plt.Normalize(-3, 3))
cb = fig.colorbar(sm, cax=cax, orientation='horizontal', ticks=cbar_ticks)
cb.ax.set_xticklabels(['-3', '0', '3'])
cb.outline.set_edgecolor(SPINE); cb.outline.set_linewidth(1.1)
cb.ax.tick_params(length=2, width=0.8, direction='in', color=SPINE, labelsize=12.5, labelcolor=INK, pad=7)
txt(937, 729, 'Mean sound-to-site')
txt(937, 750, 'coupling')

# panel letters
for x, y, s in [(7, 8, 'A'), (530, 7, 'B'), (7, 456, 'C'), (530, 457, 'D')]:
    ov.text(x, y, s, fontsize=14, fontweight='bold', ha='left', va='center', color='black')

fig.savefig('out.png', dpi=100, facecolor='white')
